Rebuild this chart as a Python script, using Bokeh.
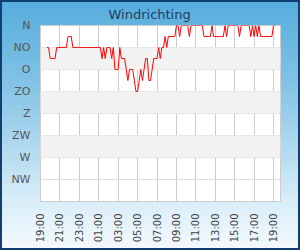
import math
from bokeh.plotting import figure
from bokeh.models import Range1d, FixedTicker, BoxAnnotation, InlineStyleSheet
from bokeh.embed import file_html
from bokeh.resources import INLINE

# sample times: minutes after 19:00, every 10 minutes starting 19:40
start_minutes = 40
step_minutes = 10
direction_deg = (
    [45, 45, 67.5, 67.5, 67.5, 67.5, 45, 45, 45, 45, 45, 45, 45, 22.5, 22.5, 22.5]
    + [45] * 17
    + [45, 67.5, 45, 67.5, 45, 45, 45, 67.5, 45, 90, 90, 90, 45, 67.5, 67.5, 67.5,
       90, 112.5, 90, 90, 90, 112.5, 135, 135, 112.5, 90, 112.5, 90, 67.5, 67.5,
       112.5, 112.5, 90, 67.5, 67.5, 67.5, 45, 67.5, 45, 45, 22.5, 45]
    + [22.5] * 5
    + [0, 0, 22.5, 0, 0, 0, 0, 0, 22.5]
    + [0] * 8
    + [22.5] * 5
    + [0]
    + [22.5] * 7
    + [0, 22.5, 0, 0, 0, 0, 0, 0, 0, 22.5, 0, 0, 0, 0, 0, 0, 22.5, 0, 22.5, 0, 22.5, 0]
    + [22.5] * 8
    + [0, 0]
)
times_h = [(start_minutes + step_minutes * i) / 60 for i in range(len(direction_deg))]

dir_ticks = [0, 45, 90, 135, 180, 225, 270, 315]
dir_labels = ["N", "NO", "O", "ZO", "Z", "ZW", "W", "NW"]
time_ticks = list(range(0, 25, 2))
time_labels = ["19:00", "21:00", "23:00", "01:00", "03:00", "05:00", "07:00",
               "09:00", "11:00", "13:00", "15:00", "17:00", "19:00"]
band_ranges = [(45, 90), (135, 180), (225, 270)]

p = figure(width=300, height=250, output_backend="svg", toolbar_location=None,
           x_range=Range1d(0, 24.72), y_range=Range1d(360, 0),
           min_border_left=40, min_border_right=20, min_border_top=25,
           min_border_bottom=49)
p.border_fill_color = None
p.background_fill_color = "white"
p.outline_line_color = "#cccccc"
p.stylesheets = [InlineStyleSheet(css=""":host {
  background: linear-gradient(to bottom, #55acdc 0%, #7dc0e5 30%, #a9d6ee 55%, #d8edf8 80%, #f4f9fd 100%);
  box-shadow: inset 0 0 0 2px #123e70;
}""")]

p.title.text = "Windrichting"
p.title.align = "left"
p.title.text_font = "DejaVu Sans"
p.title.text_font_size = "13px"
p.title.text_font_style = "normal"
p.title.text_color = "#1e3d62"
p.title.standoff = 8
p.title.offset = 68

for lo, hi in band_ranges:
    p.add_layout(BoxAnnotation(bottom=hi, top=lo, fill_color="#f2f2f2", fill_alpha=1,
                               line_alpha=0, level="underlay"))

p.line(times_h, direction_deg, line_color="#ff0000", line_width=1)

p.yaxis.ticker = FixedTicker(ticks=dir_ticks)
p.yaxis.major_label_overrides = {t: l for t, l in zip(dir_ticks, dir_labels)}
p.xaxis.ticker = FixedTicker(ticks=time_ticks)
p.xaxis.major_label_overrides = {t: l for t, l in zip(time_ticks, time_labels)}
p.xaxis.major_label_orientation = math.pi / 2

for ax in (p.xaxis, p.yaxis):
    ax.axis_line_color = None
    ax.major_tick_line_color = None
    ax.minor_tick_line_color = None
    ax.major_tick_out = 0
    ax.major_tick_in = 0
    ax.major_label_text_font = "DejaVu Sans"
p.yaxis.major_label_text_font_size = "11px"
p.yaxis.major_label_text_color = "#555555"
p.yaxis.major_label_standoff = 10
p.xaxis.major_label_text_font_size = "10px"
p.xaxis.major_label_text_color = "#444444"
p.xaxis.major_label_standoff = 12

p.xgrid.grid_line_color = "#cccccc"
p.ygrid.grid_line_color = "#dddddd"

open("out.html", "w").write(file_html(p, INLINE))
